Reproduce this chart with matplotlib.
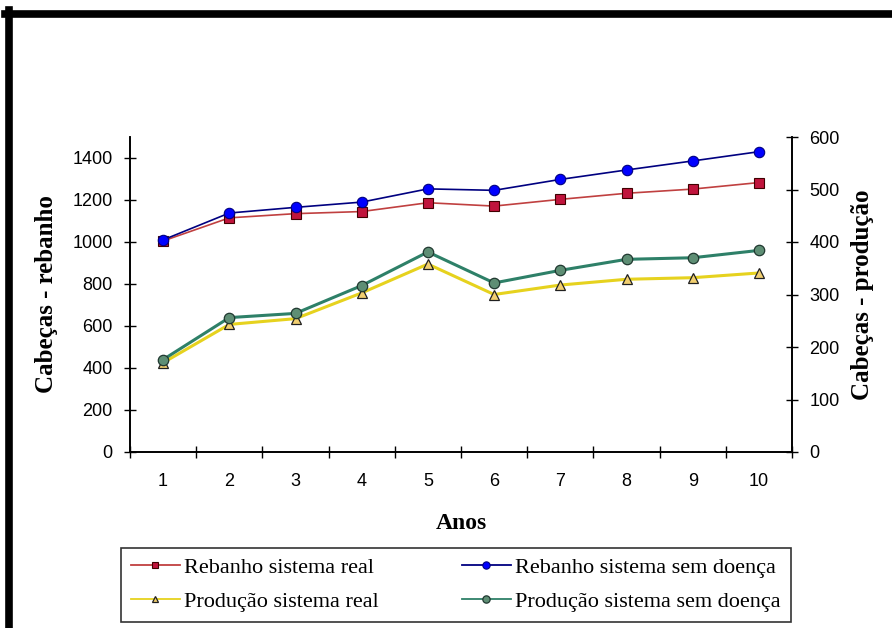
import numpy as np
import matplotlib
matplotlib.use("Agg")
from matplotlib import pyplot as plt
from matplotlib.lines import Line2D

anos = [1, 2, 3, 4, 5, 6, 7, 8, 9, 10]
rebanho_real = [1005, 1115, 1135, 1145, 1187, 1171, 1203, 1232, 1252, 1283]
rebanho_sem_doenca = [1010, 1138, 1165, 1190, 1253, 1246, 1298, 1343, 1386, 1430]
producao_real = [170, 243, 254, 303, 358, 300, 318, 329, 332, 341]
producao_sem_doenca = [176, 256, 264, 317, 381, 322, 346, 367, 370, 384]

left_ticks = [0, 200, 400, 600, 800, 1000, 1200, 1400]
right_ticks = [0, 100, 200, 300, 400, 500, 600]

serif = "Liberation Serif"
sans = "Liberation Sans"

fig = plt.figure(figsize=(8.92, 6.28), dpi=100)
ax = fig.add_axes([130 / 892, 1 - 452 / 628, 662 / 892, 315 / 628])
ax2 = ax.twinx()

x = np.array(anos)
l1, = ax.plot(x, rebanho_real, color="#C04040", lw=1.2, marker="s", ms=6.5,
              mfc="#C0143C", mec="#400000", mew=0.8, label="Rebanho sistema real")
l2, = ax.plot(x, rebanho_sem_doenca, color="#000080", lw=1.2, marker="o", ms=7.5,
              mfc="#0000FF", mec="#000080", mew=0.8, label="Rebanho sistema sem doença")
l3, = ax2.plot(x, producao_real, color="#E6D21E", lw=2.2, marker="^", ms=7,
               mfc="#F2CF70", mec="#202020", mew=0.9, label="Produção sistema real")
l4, = ax2.plot(x, producao_sem_doenca, color="#2E8068", lw=2.2, marker="o", ms=7.5,
               mfc="#5E8E74", mec="#203830", mew=0.9, label="Produção sistema sem doença")

ax.set_xlim(0.5, 10.5)
ax.set_ylim(0, 1500)
ax2.set_ylim(0, 600)
ax.set_yticks(left_ticks)
ax2.set_yticks(right_ticks)

ax.set_xticks(np.arange(0.5, 11, 1))
ax.set_xticklabels([])
ax.set_xticks(x, minor=True)
ax.set_xticklabels([str(a) for a in anos], minor=True)
ax.tick_params(axis="x", which="minor", length=0, pad=15)
ax.tick_params(axis="x", which="major", direction="inout", length=9, width=1)
ax.tick_params(axis="y", direction="inout", length=9, width=1, pad=8)
ax2.tick_params(axis="y", direction="inout", length=9, width=1, pad=8)

for a in (ax, ax2):
    a.spines["top"].set_visible(False)
    for s in ("left", "right", "bottom"):
        a.spines[s].set_linewidth(1.2)
    for lab in a.get_yticklabels() + a.get_xticklabels(minor=True):
        lab.set_fontfamily(sans)
        lab.set_fontsize(13)

ax.set_ylabel("Cabeças - rebanho", fontfamily=serif, fontweight="bold", fontsize=18, labelpad=10)
ax2.set_ylabel("Cabeças - produção", fontfamily=serif, fontweight="bold", fontsize=18, labelpad=8)
ax.set_xlabel("Anos", fontfamily=serif, fontweight="bold", fontsize=17, labelpad=17)

leg = fig.legend(handles=[l1, l3, l2, l4], ncol=2, loc="lower left",
                 bbox_to_anchor=(121 / 892, 1 - 622 / 628, 670 / 892, 76 / 628),
                 mode="expand", fancybox=False, frameon=True, edgecolor="black",
                 prop={"family": serif, "size": 16}, handlelength=2.2,
                 handletextpad=0.2, borderaxespad=0, borderpad=0.45,
                 labelspacing=0.6, markerscale=0.7)
leg.get_frame().set_linewidth(1.2)
for h in leg.legend_handles:
    h.set_linewidth(1.3)

# borda preta grossa (topo e esquerda)
fig.add_artist(Line2D([5 / 892, 1], [1 - 13.5 / 628, 1 - 13.5 / 628], color="black", lw=5.5,
                      transform=fig.transFigure))
fig.add_artist(Line2D([8.5 / 892, 8.5 / 892], [0, 1 - 10 / 628], color="black", lw=5.5,
                      transform=fig.transFigure))

plt.savefig("out.png", dpi=100)
plt.close()
